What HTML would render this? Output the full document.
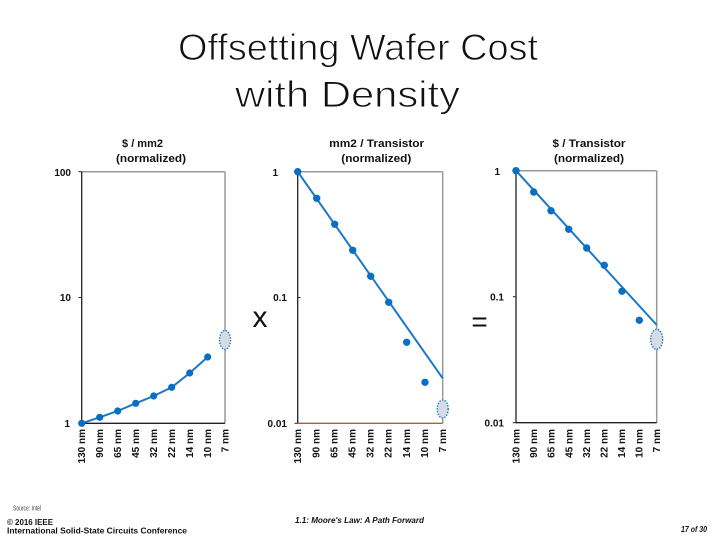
<!DOCTYPE html>
<html>
<head>
<meta charset="utf-8">
<style>
  html, body { margin:0; padding:0; background:#fff; }
  svg { display:block; }
  text { font-family: "Liberation Sans", Arial, sans-serif; }
</style>
</head>
<body>
<svg width="720" height="540" viewBox="0 0 720 540" xmlns="http://www.w3.org/2000/svg">
  <rect x="0" y="0" width="720" height="540" fill="#ffffff"/>

  <!-- Title -->
  <text x="358" y="60" font-size="37" text-anchor="middle" fill="#111" stroke="#fff" stroke-width="0.9" textLength="360" lengthAdjust="spacingAndGlyphs">Offsetting Wafer Cost</text>
  <text x="347.5" y="107" font-size="37" text-anchor="middle" fill="#111" stroke="#fff" stroke-width="0.9" textLength="225" lengthAdjust="spacingAndGlyphs">with Density</text>

  <!-- ============ Chart 1 ============ -->
  <text x="142.5" y="147" font-size="11" font-weight="bold" text-anchor="middle" fill="#111">$ / mm2</text>
  <text x="151" y="162" font-size="11" font-weight="bold" text-anchor="middle" fill="#111" textLength="70" lengthAdjust="spacingAndGlyphs">(normalized)</text>
  <line x1="81.7" y1="171.7" x2="225" y2="171.7" stroke="#999" stroke-width="1.5"/>
  <line x1="225" y1="171.7" x2="225" y2="423.3" stroke="#999" stroke-width="1.5"/>
  <line x1="81.7" y1="171.7" x2="81.7" y2="423.3" stroke="#222" stroke-width="1.3"/>
  <line x1="81.7" y1="423.3" x2="225" y2="423.3" stroke="#222" stroke-width="1.3"/>
  <line x1="78.5" y1="171.7" x2="81.7" y2="171.7" stroke="#222" stroke-width="1"/>
  <line x1="78.5" y1="297.5" x2="81.7" y2="297.5" stroke="#222" stroke-width="1"/>
  <line x1="78.5" y1="423.3" x2="81.7" y2="423.3" stroke="#222" stroke-width="1"/>
  <text x="71" y="176" font-size="10" font-weight="bold" text-anchor="end" fill="#111">100</text>
  <text x="71" y="301" font-size="10" font-weight="bold" text-anchor="end" fill="#111">10</text>
  <text x="70" y="427" font-size="10" font-weight="bold" text-anchor="end" fill="#111">1</text>
  <polyline points="81.7,423.3 99.7,417.3 117.7,411 135.7,403.3 153.7,396 171.7,387.3 189.7,373 207.7,357" fill="none" stroke="#1a78c8" stroke-width="2"/>
  <g fill="#0a6fc2">
    <circle cx="81.7" cy="423.3" r="3.6"/>
    <circle cx="99.7" cy="417.3" r="3.6"/>
    <circle cx="117.7" cy="411" r="3.6"/>
    <circle cx="135.7" cy="403.3" r="3.6"/>
    <circle cx="153.7" cy="396" r="3.6"/>
    <circle cx="171.7" cy="387.3" r="3.6"/>
    <circle cx="189.7" cy="373" r="3.6"/>
    <circle cx="207.7" cy="357" r="3.6"/>
  </g>
  <ellipse cx="225" cy="340" rx="5.5" ry="9.5" fill="#d6dce6" stroke="#1a78c8" stroke-width="1.4" stroke-dasharray="1.4 1.4"/>
  <g font-size="10" font-weight="bold" fill="#111" text-anchor="end">
    <text transform="translate(85.2,429) rotate(-90)">130 nm</text>
    <text transform="translate(103.2,429) rotate(-90)">90 nm</text>
    <text transform="translate(121.2,429) rotate(-90)">65 nm</text>
    <text transform="translate(139.2,429) rotate(-90)">45 nm</text>
    <text transform="translate(157.2,429) rotate(-90)">32 nm</text>
    <text transform="translate(175.2,429) rotate(-90)">22 nm</text>
    <text transform="translate(193.2,429) rotate(-90)">14 nm</text>
    <text transform="translate(211.2,429) rotate(-90)">10 nm</text>
    <text transform="translate(228.5,429) rotate(-90)">7 nm</text>
  </g>

  <text x="260" y="327" font-size="30" text-anchor="middle" fill="#111">x</text>

  <!-- ============ Chart 2 ============ -->
  <text x="376.7" y="147" font-size="11" font-weight="bold" text-anchor="middle" fill="#111" textLength="95" lengthAdjust="spacingAndGlyphs">mm2 / Transistor</text>
  <text x="376.3" y="162" font-size="11" font-weight="bold" text-anchor="middle" fill="#111" textLength="70" lengthAdjust="spacingAndGlyphs">(normalized)</text>
  <line x1="297.7" y1="171.7" x2="442.7" y2="171.7" stroke="#999" stroke-width="1.5"/>
  <line x1="442.7" y1="171.7" x2="442.7" y2="423.3" stroke="#999" stroke-width="1.5"/>
  <line x1="297.7" y1="171.7" x2="297.7" y2="423.3" stroke="#222" stroke-width="1.3"/>
  <line x1="297.7" y1="423.3" x2="442.7" y2="423.3" stroke="#b0602a" stroke-width="1.4"/>
  <line x1="294.5" y1="171.7" x2="297.7" y2="171.7" stroke="#222" stroke-width="1"/>
  <line x1="297.7" y1="297.5" x2="300.5" y2="297.5" stroke="#222" stroke-width="1"/>
  <line x1="294.5" y1="423.3" x2="297.7" y2="423.3" stroke="#222" stroke-width="1"/>
  <text x="278" y="176" font-size="10" font-weight="bold" text-anchor="end" fill="#111">1</text>
  <text x="287" y="301" font-size="10" font-weight="bold" text-anchor="end" fill="#111">0.1</text>
  <text x="287" y="427" font-size="10" font-weight="bold" text-anchor="end" fill="#111">0.01</text>
  <line x1="297.7" y1="171.7" x2="442.7" y2="378.3" stroke="#1a78c8" stroke-width="2"/>
  <g fill="#0a6fc2">
    <circle cx="297.7" cy="171.7" r="3.7"/>
    <circle cx="316.7" cy="198.3" r="3.7"/>
    <circle cx="334.7" cy="224.3" r="3.7"/>
    <circle cx="352.7" cy="250.3" r="3.7"/>
    <circle cx="370.7" cy="276.3" r="3.7"/>
    <circle cx="388.7" cy="302.3" r="3.7"/>
    <circle cx="406.7" cy="342.3" r="3.7"/>
    <circle cx="425" cy="382.3" r="3.7"/>
  </g>
  <ellipse cx="442.7" cy="409" rx="5.5" ry="9" fill="#d6dce6" stroke="#1a78c8" stroke-width="1.4" stroke-dasharray="1.4 1.4"/>
  <g font-size="10" font-weight="bold" fill="#111" text-anchor="end">
    <text transform="translate(301.2,429) rotate(-90)">130 nm</text>
    <text transform="translate(319.3,429) rotate(-90)">90 nm</text>
    <text transform="translate(337.4,429) rotate(-90)">65 nm</text>
    <text transform="translate(355.5,429) rotate(-90)">45 nm</text>
    <text transform="translate(373.6,429) rotate(-90)">32 nm</text>
    <text transform="translate(391.7,429) rotate(-90)">22 nm</text>
    <text transform="translate(409.8,429) rotate(-90)">14 nm</text>
    <text transform="translate(427.9,429) rotate(-90)">10 nm</text>
    <text transform="translate(446.2,429) rotate(-90)">7 nm</text>
  </g>

  <text x="479.5" y="331" font-size="28" text-anchor="middle" fill="#111">=</text>

  <!-- ============ Chart 3 ============ -->
  <text x="589" y="147" font-size="11" font-weight="bold" text-anchor="middle" fill="#111" textLength="73" lengthAdjust="spacingAndGlyphs">$ / Transistor</text>
  <text x="589" y="162" font-size="11" font-weight="bold" text-anchor="middle" fill="#111" textLength="70" lengthAdjust="spacingAndGlyphs">(normalized)</text>
  <line x1="516" y1="170.7" x2="656.7" y2="170.7" stroke="#999" stroke-width="1.5"/>
  <line x1="656.7" y1="170.7" x2="656.7" y2="422.7" stroke="#999" stroke-width="1.5"/>
  <line x1="516" y1="170.7" x2="516" y2="422.7" stroke="#222" stroke-width="1.3"/>
  <line x1="516" y1="422.7" x2="656.7" y2="422.7" stroke="#222" stroke-width="1.3"/>
  <line x1="512.8" y1="170.7" x2="516" y2="170.7" stroke="#222" stroke-width="1"/>
  <line x1="512.8" y1="296.7" x2="516" y2="296.7" stroke="#222" stroke-width="1"/>
  <line x1="512.8" y1="422.7" x2="516" y2="422.7" stroke="#222" stroke-width="1"/>
  <text x="500" y="175" font-size="10" font-weight="bold" text-anchor="end" fill="#111">1</text>
  <text x="504" y="300.5" font-size="10" font-weight="bold" text-anchor="end" fill="#111">0.1</text>
  <text x="504" y="426.5" font-size="10" font-weight="bold" text-anchor="end" fill="#111">0.01</text>
  <line x1="516" y1="170.7" x2="656.7" y2="325" stroke="#1a78c8" stroke-width="2"/>
  <g fill="#0a6fc2">
    <circle cx="516" cy="170.7" r="3.7"/>
    <circle cx="533.7" cy="192" r="3.7"/>
    <circle cx="551" cy="210.7" r="3.7"/>
    <circle cx="568.7" cy="229.3" r="3.7"/>
    <circle cx="586.7" cy="248" r="3.7"/>
    <circle cx="604.3" cy="265.3" r="3.7"/>
    <circle cx="622" cy="291.3" r="3.7"/>
    <circle cx="639.3" cy="320.3" r="3.7"/>
  </g>
  <ellipse cx="656.7" cy="339.3" rx="6" ry="10" fill="#d6dce6" stroke="#1a78c8" stroke-width="1.4" stroke-dasharray="1.4 1.4"/>
  <g font-size="10" font-weight="bold" fill="#111" text-anchor="end">
    <text transform="translate(519.5,429) rotate(-90)">130 nm</text>
    <text transform="translate(537.1,429) rotate(-90)">90 nm</text>
    <text transform="translate(554.7,429) rotate(-90)">65 nm</text>
    <text transform="translate(572.3,429) rotate(-90)">45 nm</text>
    <text transform="translate(589.9,429) rotate(-90)">32 nm</text>
    <text transform="translate(607.5,429) rotate(-90)">22 nm</text>
    <text transform="translate(625.1,429) rotate(-90)">14 nm</text>
    <text transform="translate(642.7,429) rotate(-90)">10 nm</text>
    <text transform="translate(660.2,429) rotate(-90)">7 nm</text>
  </g>

  <!-- Footer -->
  <text x="13" y="510.5" font-size="7" fill="#444" textLength="28" lengthAdjust="spacingAndGlyphs">Source: Intel</text>
  <text x="7" y="525" font-size="8" font-weight="bold" fill="#111" textLength="46" lengthAdjust="spacingAndGlyphs">© 2016 IEEE</text>
  <text x="7" y="533.5" font-size="8" font-weight="bold" fill="#111" textLength="180" lengthAdjust="spacingAndGlyphs">International Solid-State Circuits Conference</text>
  <text x="295" y="523" font-size="8" font-weight="bold" font-style="italic" fill="#111" textLength="129" lengthAdjust="spacingAndGlyphs">1.1:  Moore's Law: A Path Forward</text>
  <text x="707" y="532" font-size="8" font-weight="bold" font-style="italic" fill="#111" text-anchor="end" textLength="26" lengthAdjust="spacingAndGlyphs">17 of 30</text>
</svg>
</body>
</html>
